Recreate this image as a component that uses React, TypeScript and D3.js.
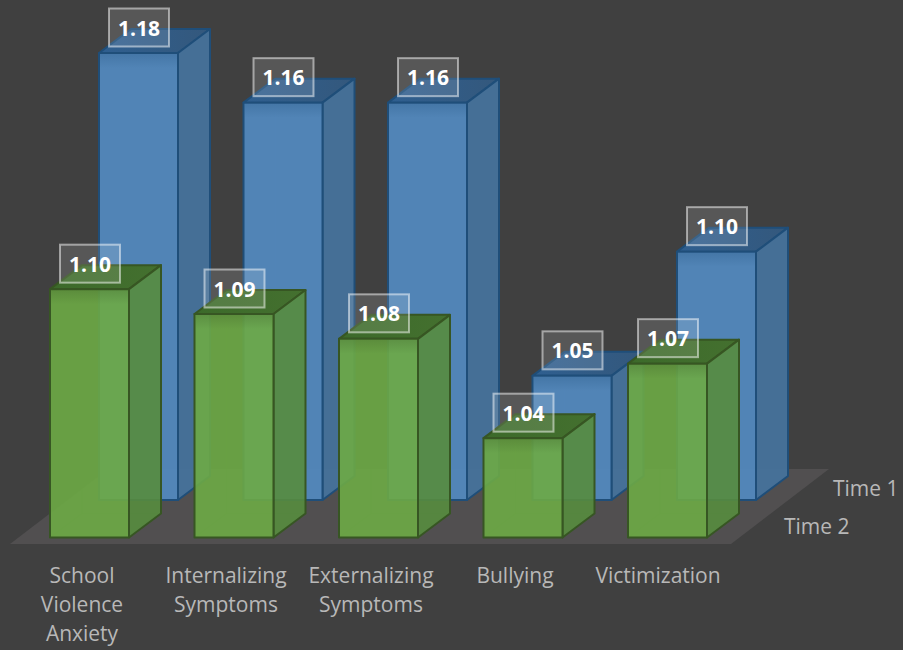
import React from "react";
import * as d3 from "d3";

const categories = [
  ["School", "Violence", "Anxiety"],
  ["Internalizing", "Symptoms"],
  ["Externalizing", "Symptoms"],
  ["Bullying"],
  ["Victimization"],
];
const time1Values = [1.18, 1.16, 1.16, 1.05, 1.1];
const time2Values = [1.1, 1.09, 1.08, 1.04, 1.07];
const labelCentres = [82, 226, 371, 515, 658];

const WIDTH = 903;
const HEIGHT = 650;
const BAR_W = 79;
const DEPTH_X = 32;
const DEPTH_Y = 24;
const FONT = "'Open Sans', sans-serif";

const index = d3.range(categories.length);
const heightScale = d3.scaleLinear().domain([1, 1.18]).range([0, 447]);
const greenX = d3.scaleLinear().domain([0, 4]).range([50, 628]);
const blueX = d3.scaleLinear().domain([0, 4]).range([99, 677]);

const poly = d3.line<[number, number]>().curve(d3.curveLinearClosed);

interface Palette {
  id: string;
  front: string;
  side: string;
  top: string;
  stroke: string;
}
const bluePalette: Palette = { id: "b", front: "#5288bd", side: "#46729b", top: "#2f5f90", stroke: "#1f4e79" };
const greenPalette: Palette = { id: "g", front: "#6daa45", side: "#578c3e", top: "#3f6b2b", stroke: "#375623" };

function Box({ x, base, value, p, alpha }: { x: number; base: number; value: number; p: Palette; alpha: number }) {
  const top = base - heightScale(value);
  const r = x + BAR_W;
  const edge = { stroke: p.stroke, strokeWidth: 2, strokeLinejoin: "round" as const };
  return (
    <g>
      {/* far edges, seen through the translucent faces */}
      <path d={`M${x + DEPTH_X},${top - DEPTH_Y}V${base - DEPTH_Y}H${r + DEPTH_X}M${x},${base}L${x + DEPTH_X},${base - DEPTH_Y}`} fill="none" stroke={p.stroke} strokeOpacity={0.22} strokeWidth={1} />
      <path d={poly([[x, top], [r, top], [r + DEPTH_X, top - DEPTH_Y], [x + DEPTH_X, top - DEPTH_Y]])!} fill={`url(#${p.id}Top)`} {...edge} />
      <path d={poly([[r, top], [r + DEPTH_X, top - DEPTH_Y], [r + DEPTH_X, base - DEPTH_Y], [r, base]])!} fill={p.side} fillOpacity={alpha} {...edge} />
      <path d={poly([[x, top], [r, top], [r, base], [x, base]])!} fill={p.front} fillOpacity={alpha} {...edge} />
      <rect x={x + 1} y={top + 1} width={BAR_W - 2} height={14} fill={`url(#${p.id}Shade)`} />
    </g>
  );
}

function ValueTag({ cx, top, value }: { cx: number; top: number; value: number }) {
  const cy = top - 25.5;
  return (
    <g>
      <rect x={cx - 29.5} y={cy - 19} width={60} height={38} fill="#ffffff" fillOpacity={0.12} stroke="#ffffff" strokeOpacity={0.5} strokeWidth={2} />
      <text x={cx + 0.5} y={cy + 0.5} dy="0.36em" textAnchor="middle" fontFamily={FONT} fontSize={21} fontWeight={700} fill="#ffffff">
        {value.toFixed(2)}
      </text>
    </g>
  );
}

export default function App() {
  return (
    <svg width={WIDTH} height={HEIGHT} viewBox={`0 0 ${WIDTH} ${HEIGHT}`} style={{ position: "absolute", left: 0, top: 0, display: "block" }}>
      <defs>
        <linearGradient id="bTop" x1="0" x2="1" y1="0" y2="0">
          <stop offset="0" stopColor="#2f5f90" />
          <stop offset="1" stopColor="#34587c" />
        </linearGradient>
        <linearGradient id="gTop" x1="0" x2="1" y1="0" y2="0">
          <stop offset="0" stopColor="#3c6a2a" />
          <stop offset="1" stopColor="#44702f" />
        </linearGradient>
        <linearGradient id="bShade" x1="0" x2="0" y1="0" y2="1">
          <stop offset="0" stopColor="#1f4e79" stopOpacity={0.25} />
          <stop offset="1" stopColor="#1f4e79" stopOpacity={0} />
        </linearGradient>
        <linearGradient id="gShade" x1="0" x2="0" y1="0" y2="1">
          <stop offset="0" stopColor="#375623" stopOpacity={0.25} />
          <stop offset="1" stopColor="#375623" stopOpacity={0} />
        </linearGradient>
      </defs>

      <rect width={WIDTH} height={HEIGHT} fill="#404040" />
      <path d={poly([[10, 544], [731, 544], [829, 469], [108, 469]])!} fill="#514f50" />

      {index.map((i) => (
        <Box key={`t1-${i}`} x={blueX(i)} base={500} value={time1Values[i]} p={bluePalette} alpha={0.95} />
      ))}
      {index.map((i) => (
        <Box key={`t2-${i}`} x={greenX(i)} base={537.5} value={time2Values[i]} p={greenPalette} alpha={0.9} />
      ))}

      {index.map((i) => (
        <ValueTag key={`l1-${i}`} cx={blueX(i) + BAR_W / 2} top={500 - heightScale(time1Values[i])} value={time1Values[i]} />
      ))}
      {index.map((i) => (
        <ValueTag key={`l2-${i}`} cx={greenX(i) + BAR_W / 2} top={537.5 - heightScale(time2Values[i])} value={time2Values[i]} />
      ))}

      <g fontFamily={FONT} fontSize={21} fill="#b8b8b8">
        {categories.map((lines, i) => (
          <text key={i} x={labelCentres[i]} y={583} textAnchor="middle">
            {lines.map((line, j) => (
              <tspan key={line} x={labelCentres[i]} y={583 + j * 29}>
                {line}
              </tspan>
            ))}
          </text>
        ))}
        <text x={833} y={496}>Time 1</text>
        <text x={784} y={534}>Time 2</text>
      </g>
    </svg>
  );
}
